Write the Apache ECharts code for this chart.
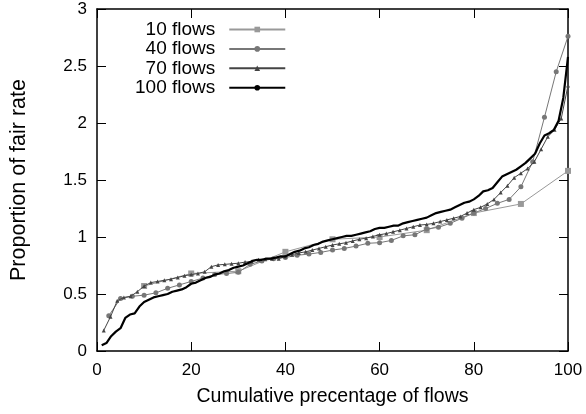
<!DOCTYPE html>
<html><head><meta charset="utf-8">
<script src="https://cdn.jsdelivr.net/npm/echarts@6/dist/echarts.min.js"></script>
<style>html,body{margin:0;padding:0;background:#fff}#c{width:586px;height:414px}</style>
</head><body><div id="c"></div>
<script>
const seriesNames = ['10 flows', '40 flows', '70 flows', '100 flows'];
const xTicks = [0, 20, 40, 60, 80, 100];
const yTicks = [0, 0.5, 1, 1.5, 2, 2.5, 3];

const x10 = [10, 20, 30, 40, 50, 60, 70, 80, 90, 100];
const y10 = [0.57, 0.68, 0.70, 0.87, 0.98, 1.00, 1.06, 1.21, 1.29, 1.58];

const x40 = [2.5, 5, 7.5, 10, 12.5, 15, 17.5, 20, 22.5, 25, 27.5, 30, 32.5, 35, 37.5, 40, 42.5, 45, 47.5, 50,
  52.5, 55, 57.5, 60, 62.5, 65, 67.5, 70, 72.5, 75, 77.5, 80, 82.5, 85, 87.5, 90, 92.5, 95, 97.5, 100];
const y40 = [0.31, 0.46, 0.48, 0.49, 0.51, 0.55, 0.58, 0.61, 0.64, 0.67, 0.68, 0.69, 0.76, 0.79, 0.81, 0.82, 0.84, 0.85, 0.865, 0.885,
  0.90, 0.92, 0.945, 0.95, 0.97, 1.01, 1.02, 1.07, 1.085, 1.12, 1.165, 1.21, 1.25, 1.295, 1.33, 1.44, 1.66, 2.05, 2.45, 2.76];

const x70 = [1.43, 2.86, 4.29, 5.71, 7.14, 8.57, 10.0, 11.43, 12.86, 14.29, 15.71, 17.14, 18.57, 20.0, 21.43, 22.86, 24.29, 25.71, 27.14, 28.57,
  30.0, 31.43, 32.86, 34.29, 35.71, 37.14, 38.57, 40.0, 41.43, 42.86, 44.29, 45.71, 47.14, 48.57, 50.0, 51.43, 52.86, 54.29, 55.71, 57.14,
  58.57, 60.0, 61.43, 62.86, 64.29, 65.71, 67.14, 68.57, 70.0, 71.43, 72.86, 74.29, 75.71, 77.14, 78.57, 80.0, 81.43, 82.86, 84.29, 85.71,
  87.14, 88.57, 90.0, 91.43, 92.86, 94.29, 95.71, 97.14, 98.57, 100.0];
const y70 = [0.18, 0.30, 0.44, 0.47, 0.48, 0.52, 0.57, 0.60, 0.61, 0.62, 0.63, 0.645, 0.66, 0.67, 0.68, 0.695, 0.74, 0.755, 0.76, 0.765,
  0.77, 0.78, 0.785, 0.80, 0.805, 0.81, 0.81, 0.83, 0.845, 0.86, 0.87, 0.885, 0.90, 0.915, 0.93, 0.94, 0.95, 0.965, 0.98, 0.99,
  1.005, 1.02, 1.03, 1.045, 1.06, 1.075, 1.09, 1.105, 1.11, 1.12, 1.135, 1.15, 1.165, 1.18, 1.21, 1.24, 1.26, 1.29, 1.33, 1.39,
  1.45, 1.52, 1.56, 1.60, 1.66, 1.77, 1.88, 1.94, 2.04, 2.33];

const x100 = [1, 2, 3, 4, 5, 6, 7, 8, 9, 10, 11, 12, 13, 14, 15, 16, 17, 18, 19, 20,
  21, 22, 23, 24, 25, 26, 27, 28, 29, 30, 31, 32, 33, 34, 35, 36, 37, 38, 39, 40,
  41, 42, 43, 44, 45, 46, 47, 48, 49, 50, 51, 52, 53, 54, 55, 56, 57, 58, 59, 60,
  61, 62, 63, 64, 65, 66, 67, 68, 69, 70, 71, 72, 73, 74, 75, 76, 77, 78, 79, 80,
  81, 82, 83, 84, 85, 86, 87, 88, 89, 90, 91, 92, 93, 94, 95, 96, 97, 98, 99, 100];
const y100 = [0.05, 0.07, 0.13, 0.17, 0.20, 0.29, 0.32, 0.33, 0.39, 0.43, 0.45, 0.47, 0.48, 0.49, 0.50, 0.52, 0.53, 0.54, 0.56, 0.59,
  0.60, 0.62, 0.64, 0.65, 0.67, 0.68, 0.70, 0.71, 0.73, 0.74, 0.75, 0.77, 0.79, 0.80, 0.80, 0.81, 0.81, 0.82, 0.83, 0.83,
  0.85, 0.87, 0.88, 0.90, 0.91, 0.93, 0.94, 0.96, 0.97, 0.98, 0.99, 1.00, 1.01, 1.01, 1.02, 1.03, 1.04, 1.05, 1.07, 1.08,
  1.08, 1.09, 1.10, 1.10, 1.12, 1.13, 1.14, 1.15, 1.16, 1.17, 1.19, 1.21, 1.22, 1.23, 1.24, 1.26, 1.28, 1.30, 1.31, 1.33,
  1.36, 1.40, 1.41, 1.43, 1.48, 1.53, 1.55, 1.57, 1.59, 1.62, 1.65, 1.69, 1.73, 1.82, 1.89, 1.91, 1.94, 2.02, 2.22, 2.58];

const pairs = (xs, ys) => xs.map((x, i) => [x, ys[i]]);
const FONT = 'Liberation Sans, Arial, sans-serif';

const chart = echarts.init(document.getElementById('c'), null, {renderer: 'canvas'});
const axisCommon = () => ({
  axisLine: {show: true, onZero: false, lineStyle: {color: '#000', width: 1.5}},
  axisTick: {show: true, inside: true, length: 9, lineStyle: {color: '#000', width: 1}},
  splitLine: {show: false}
});
chart.setOption({
  animation: false,
  backgroundColor: '#fff',
  grid: {left: 96, right: 18, top: 9, bottom: 63, containLabel: false},
  legend: {
    orient: 'vertical', left: 130, top: 15, align: 'right',
    itemWidth: 56, itemHeight: 7, itemGap: 0.4,
    data: seriesNames,
    textStyle: {fontFamily: FONT, fontSize: 19, color: '#000', padding: [0, 9, 0, 0]}
  },
  xAxis: [
    Object.assign({type: 'value', min: 0, max: 100, interval: 20, position: 'bottom',
      name: 'Cumulative precentage of flows', nameLocation: 'middle', nameGap: 36,
      nameTextStyle: {fontFamily: FONT, fontSize: 19.5, color: '#000'},
      axisLabel: {fontFamily: FONT, fontSize: 17, color: '#000', margin: 11,
        customValues: xTicks, formatter: v => String(v)}}, axisCommon()),
    Object.assign({type: 'value', min: 0, max: 100, interval: 20, position: 'top',
      axisLabel: {show: false}}, axisCommon())
  ],
  yAxis: [
    Object.assign({type: 'value', min: 0, max: 3, interval: 0.5, position: 'left',
      name: 'Proportion of fair rate', nameLocation: 'middle', nameGap: 67,
      nameTextStyle: {fontFamily: FONT, fontSize: 21.5, color: '#000'},
      axisLabel: {fontFamily: FONT, fontSize: 17, color: '#000', margin: 10,
        formatter: v => String(v)}}, axisCommon()),
    Object.assign({type: 'value', min: 0, max: 3, interval: 0.5, position: 'right',
      axisLabel: {show: false}}, axisCommon())
  ],
  series: [
    {name: seriesNames[0], type: 'line', data: pairs(x10, y10), symbol: 'rect', symbolSize: 6,
      itemStyle: {color: '#999'}, lineStyle: {color: '#999', width: 1}, z: 2},
    {name: seriesNames[1], type: 'line', data: pairs(x40, y40), symbol: 'circle', symbolSize: 5,
      itemStyle: {color: '#777'}, lineStyle: {color: '#777', width: 1}, z: 3},
    {name: seriesNames[2], type: 'line', data: pairs(x70, y70), symbol: 'triangle', symbolSize: 4,
      itemStyle: {color: '#444'}, lineStyle: {color: '#444', width: 1}, z: 4},
    {name: seriesNames[3], type: 'line', data: pairs(x100, y100), symbol: 'none', showSymbol: false,
      itemStyle: {color: '#000'}, lineStyle: {color: '#000', width: 2.2}, z: 5}
  ]
});
</script></body></html>
